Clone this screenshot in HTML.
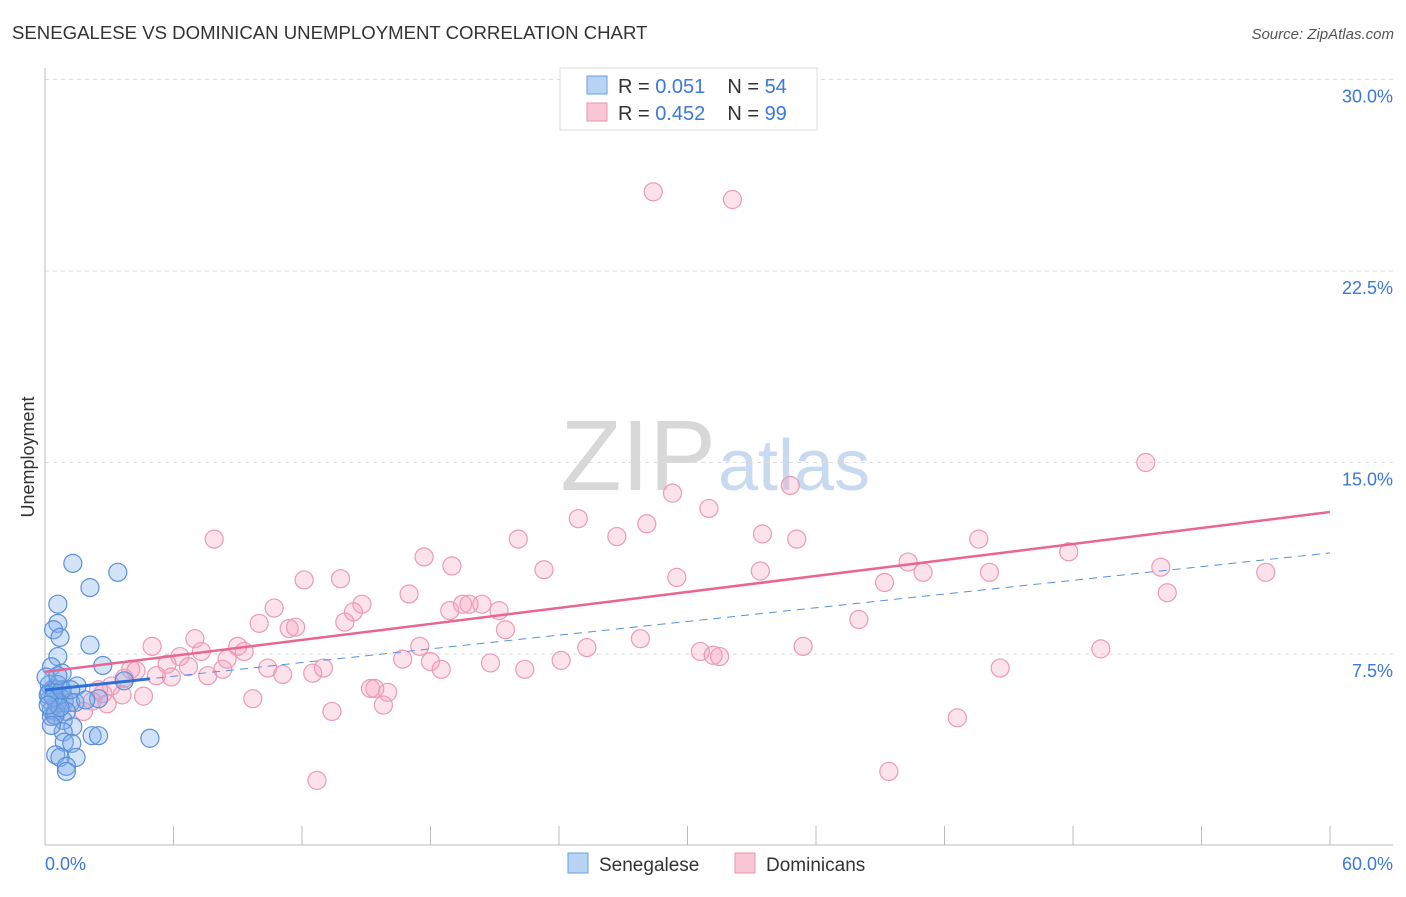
<!DOCTYPE html>
<html><head><meta charset="utf-8"><style>
body{margin:0;background:#fff;font-family:"Liberation Sans",sans-serif;}
svg text{font-family:"Liberation Sans",sans-serif;}
</style></head><body>
<svg id="chart" width="1406" height="892" xmlns="http://www.w3.org/2000/svg">
<text x="12" y="39" font-size="18.6" fill="#333">SENEGALESE VS DOMINICAN UNEMPLOYMENT CORRELATION CHART</text>
<text x="1394" y="39" font-size="15" fill="#555" text-anchor="end" font-style="italic">Source: ZipAtlas.com</text>
<text x="716" y="490" font-size="100" text-anchor="end" fill="#d8d8d8" font-family="Liberation Serif,serif">ZIP</text>
<text x="718" y="490" font-size="72" fill="#c8daf0">atlas</text>
<g id="grid"></g><g id="axes"></g><g id="pts"></g><g id="trends"></g>
<text transform="translate(34,457) rotate(-90)" font-size="18" fill="#333" text-anchor="middle">Unemployment</text>
<g>
<rect x="560" y="68" width="257" height="62" fill="#fff" stroke="#ddd"/>
<rect x="587" y="76" width="20" height="18" fill="#b8d4f4" stroke="#6a9ee0"/>
<rect x="587" y="103" width="20" height="18" fill="#f9c6d6" stroke="#ea93b0"/>
<text x="618" y="93" font-size="20" fill="#333">R = <tspan fill="#3b78d8">0.051</tspan><tspan dx="22">N = </tspan><tspan fill="#3b78d8">54</tspan></text>
<text x="618" y="120" font-size="20" fill="#333">R = <tspan fill="#3b78d8">0.452</tspan><tspan dx="22">N = </tspan><tspan fill="#3b78d8">99</tspan></text>
</g>
<g>
<rect x="568" y="853" width="20" height="20" fill="#b8d4f4" stroke="#6a9ee0"/>
<text x="599" y="871" font-size="19" fill="#333">Senegalese</text>
<rect x="735" y="853" width="20" height="20" fill="#f9c6d6" stroke="#ea93b0"/>
<text x="766" y="871" font-size="19" fill="#333">Dominicans</text>
</g>
</svg>
<script>
const yTicks=[7.5,15,22.5,30];
const yTickLabels=["7.5%","15.0%","22.5%","30.0%"];
const xTickVals=[0,6,12,18,24,30,36,42,48,54,60];
const xEndLabels=["0.0%","60.0%"];
const pinkX=[28.4,32.1,51.4,34.8,29.3,31.0,24.9,28.1,26.7,22.1,33.5,35.1,43.6,7.9,17.7,19.0,23.3,47.8,40.3,33.4,29.5,41.0,44.1,52.1,57.0,39.2,12.1,13.8,17.0,52.4,10.7,14.8,14.4,18.9,19.5,19.8,20.4,21.2,14.0,10.0,11.4,11.7,21.5,38.0,5.0,7.0,9.0,9.3,17.5,27.8,25.3,35.4,30.6,31.2,31.5,49.3,6.3,7.3,8.5,5.7,6.7,4.0,4.25,10.4,11.1,13.0,12.5,16.7,18.0,18.5,20.8,22.4,24.1,44.6,7.6,8.3,5.9,5.2,3.7,3.1,2.5,2.7,3.6,4.6,2.2,0.9,1.8,2.9,9.7,15.2,15.4,16.0,15.8,13.4,42.6,12.7,39.4,0.5,0.7];
const pinkY=[25.6,25.3,15.0,14.1,13.8,13.2,12.8,12.6,12.1,12.0,12.2,12.0,12.0,12.0,11.3,10.95,10.8,11.5,11.1,10.75,10.5,10.7,10.7,10.9,10.7,10.3,10.4,10.45,9.85,9.9,9.3,9.45,9.15,9.2,9.45,9.45,9.45,9.2,8.75,8.7,8.5,8.55,8.45,8.85,7.8,8.1,7.8,7.6,7.8,8.1,7.75,7.8,7.6,7.45,7.4,7.7,7.4,7.6,7.3,7.1,7.0,6.9,6.85,6.95,6.7,6.95,6.75,7.3,7.2,6.9,7.15,6.9,7.25,6.95,6.65,6.9,6.6,6.65,6.55,6.25,6.1,5.95,5.9,5.85,5.65,5.6,5.25,5.55,5.75,6.15,6.15,6.0,5.5,5.25,5.0,2.55,2.9,5.1,5.8];
const blueX=[1.3,3.4,2.1,0.6,0.6,0.4,0.7,2.1,0.6,2.7,0.3,0.8,3.7,1.5,0.4,0.2,0.65,0.9,1.2,0.55,1.4,2.5,0.2,0.3,0.5,0.3,1.0,0.85,1.3,0.85,0.9,1.25,2.2,2.5,4.9,0.5,1.45,0.7,1.0,1.0,0.2,0.45,0.15,0.4,0.6,0.05,0.8,0.45,0.7,0.15,0.3,1.2,1.9,0.6];
const blueY=[11.05,10.7,10.1,9.45,8.7,8.45,8.15,7.85,7.4,7.05,7.0,6.75,6.45,6.25,6.15,6.0,5.9,5.7,5.6,5.55,5.6,5.75,5.7,5.3,5.25,5.05,5.25,4.9,4.65,4.45,4.05,4.0,4.3,4.3,4.2,3.55,3.45,3.45,3.1,2.9,6.3,6.1,5.9,5.8,6.3,6.6,6.1,5.1,5.4,5.5,4.7,6.1,5.7,6.65];
const pinkTrend=[6.8,13.06];
const blueTrend=[6.09,11.46];
const blueSolidEnd=4.9;

const NS="http://www.w3.org/2000/svg";
const xS=v=>45+v/60*1285;
const yS=v=>845.5-v/7.5*191.5;
function mk(tag,attrs,parent){const e=document.createElementNS(NS,tag);for(const k in attrs)e.setAttribute(k,attrs[k]);document.getElementById(parent).appendChild(e);return e;}
yTicks.forEach((t,i)=>{
  const l=mk('line',{x1:45,x2:1393,y1:yS(t),y2:yS(t),stroke:'#ddd','stroke-dasharray':'4,4'},'grid');
  
  
  const tx=mk('text',{x:1393,y:yS(t)+23,'font-size':18,fill:'#3b78d8','text-anchor':'end'},'grid');
  tx.textContent=yTickLabels[i];
  
  
});
const ax=mk('line',{x1:45,x2:45,y1:68,y2:845,stroke:'#bbb'},'axes');


const bx=mk('line',{x1:45,x2:1393,y1:845,y2:845,stroke:'#bbb'},'axes');


xTickVals.forEach(v=>{
  const t=mk('line',{x1:xS(v),x2:xS(v),y1:826,y2:845,stroke:'#bbb'},'axes');
  
  
});
const xl0=mk('text',{x:45,y:870,'font-size':18,fill:'#3b78d8'},'axes');xl0.textContent=xEndLabels[0];


const xl1=mk('text',{x:1393,y:870,'font-size':18,fill:'#3b78d8','text-anchor':'end'},'axes');xl1.textContent=xEndLabels[1];


pinkX.forEach((x,i)=>{
  const c=mk('circle',{cx:xS(x),cy:yS(pinkY[i]),r:9,fill:'rgba(244,160,190,0.3)',stroke:'#eb9ab6','stroke-width':1.2},'pts');
  
  
});
blueX.forEach((x,i)=>{
  const c=mk('circle',{cx:xS(x),cy:yS(blueY[i]),r:9,fill:'rgba(130,175,235,0.35)',stroke:'#5b8fd9','stroke-width':1.2},'pts');
  
  
});
const bd=mk('line',{x1:xS(0),y1:yS(blueTrend[0]),x2:xS(60),y2:yS(blueTrend[1]),stroke:'#5b8fd9','stroke-width':1,'stroke-dasharray':'8,6'},'trends');


const bsY=blueTrend[0]+(blueTrend[1]-blueTrend[0])*blueSolidEnd/60;
const bs=mk('line',{x1:xS(0),y1:yS(blueTrend[0]),x2:xS(blueSolidEnd),y2:yS(bsY),stroke:'#2f6fd6','stroke-width':3},'trends');


const pt=mk('line',{x1:xS(0),y1:yS(pinkTrend[0]),x2:xS(60),y2:yS(pinkTrend[1]),stroke:'#e8668f','stroke-width':2.5},'trends');


</script>
</body></html>
